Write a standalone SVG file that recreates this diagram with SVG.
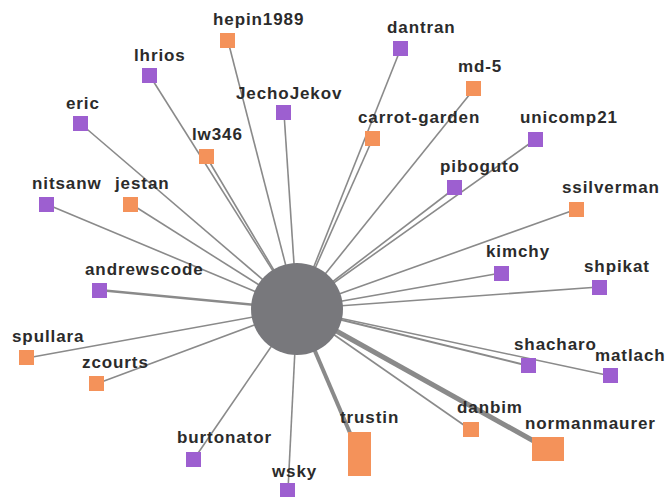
<svg xmlns="http://www.w3.org/2000/svg" width="667" height="497" viewBox="0 0 667 497">
<style>
.l{stroke:#8a8a8a;stroke-width:1.6;fill:none}
.o{fill:#f4925a}
.p{fill:#9d5fd0}
text{font-family:"Liberation Sans",Arial,sans-serif;font-weight:bold;font-size:17px;letter-spacing:0.9px;fill:#2b2b2b}
</style>
<rect width="667" height="497" fill="#fff"/>
<g id="connectors">
<line class="l" x1="228" y1="41" x2="297" y2="309"/>
<line class="l" x1="150" y1="76" x2="297" y2="309"/>
<line class="l" x1="81" y1="124" x2="297" y2="309"/>
<line class="l" x1="284" y1="113" x2="297" y2="309"/>
<line class="l" x1="206" y1="156" x2="297" y2="309"/>
<line class="l" x1="46" y1="204" x2="297" y2="309"/>
<line class="l" x1="131" y1="204" x2="297" y2="309"/>
<line class="l" x1="401" y1="48" x2="297" y2="309"/>
<line class="l" x1="474" y1="89" x2="297" y2="309"/>
<line class="l" x1="373" y1="138" x2="297" y2="309"/>
<line class="l" x1="536" y1="139" x2="297" y2="309"/>
<line class="l" x1="455" y1="188" x2="297" y2="309"/>
<line class="l" x1="577" y1="209" x2="297" y2="309"/>
<line class="l" x1="99" y1="290" x2="297" y2="309" style="stroke-width:2.6"/>
<line class="l" x1="27" y1="358" x2="297" y2="309"/>
<line class="l" x1="96" y1="384" x2="297" y2="309"/>
<line class="l" x1="194" y1="459" x2="297" y2="309"/>
<line class="l" x1="288" y1="490" x2="297" y2="309"/>
<line class="l" x1="501" y1="273" x2="297" y2="309"/>
<line class="l" x1="599" y1="287" x2="297" y2="309"/>
<line class="l" x1="529" y1="366" x2="297" y2="309" style="stroke-width:2"/>
<line class="l" x1="611" y1="376" x2="297" y2="309"/>
<line class="l" x1="471" y1="430" x2="297" y2="309"/>
<line class="l" x1="548" y1="449" x2="297" y2="309" style="stroke-width:5"/>
<line class="l" x1="359" y1="454" x2="297" y2="309" style="stroke-width:4"/>
</g>
<g id="center"><circle cx="297" cy="309" r="46" fill="#78787c"/></g>
<g id="hepin1989"><rect class="o" x="220" y="33" width="15" height="15"/><text x="213" y="25">hepin1989</text></g>
<g id="lhrios"><rect class="p" x="142" y="68" width="15" height="15"/><text x="134" y="61">lhrios</text></g>
<g id="eric"><rect class="p" x="73" y="116" width="15" height="15"/><text x="66" y="109">eric</text></g>
<g id="JechoJekov"><rect class="p" x="276" y="105" width="15" height="15"/><text x="236" y="99">JechoJekov</text></g>
<g id="lw346"><rect class="o" x="199" y="149" width="15" height="15"/><text x="192" y="140">lw346</text></g>
<g id="nitsanw"><rect class="p" x="39" y="197" width="15" height="15"/><text x="32" y="189">nitsanw</text></g>
<g id="jestan"><rect class="o" x="123" y="197" width="15" height="15"/><text x="115" y="189">jestan</text></g>
<g id="dantran"><rect class="p" x="393" y="41" width="15" height="15"/><text x="387" y="33">dantran</text></g>
<g id="md-5"><rect class="o" x="466" y="81" width="15" height="15"/><text x="458" y="72">md-5</text></g>
<g id="carrot-garden"><rect class="o" x="365" y="131" width="15" height="15"/><text x="358" y="123">carrot-garden</text></g>
<g id="unicomp21"><rect class="p" x="528" y="132" width="15" height="15"/><text x="520" y="123">unicomp21</text></g>
<g id="piboguto"><rect class="p" x="447" y="180" width="15" height="15"/><text x="440" y="172">piboguto</text></g>
<g id="ssilverman"><rect class="o" x="569" y="202" width="15" height="15"/><text x="562" y="193">ssilverman</text></g>
<g id="andrewscode"><rect class="p" x="92" y="283" width="15" height="15"/><text x="85" y="275">andrewscode</text></g>
<g id="spullara"><rect class="o" x="19" y="350" width="15" height="15"/><text x="12" y="342">spullara</text></g>
<g id="zcourts"><rect class="o" x="89" y="376" width="15" height="15"/><text x="82" y="368">zcourts</text></g>
<g id="burtonator"><rect class="p" x="186" y="452" width="15" height="15"/><text x="177" y="443">burtonator</text></g>
<g id="wsky"><rect class="p" x="280" y="483" width="15" height="15"/><text x="272" y="477">wsky</text></g>
<g id="kimchy"><rect class="p" x="494" y="266" width="15" height="15"/><text x="486" y="257">kimchy</text></g>
<g id="shpikat"><rect class="p" x="592" y="280" width="15" height="15"/><text x="584" y="272">shpikat</text></g>
<g id="shacharo"><rect class="p" x="521" y="358" width="15" height="15"/><text x="514" y="350">shacharo</text></g>
<g id="matlach"><rect class="p" x="603" y="368" width="15" height="15"/><text x="595" y="361">matlach</text></g>
<g id="danbim"><rect class="o" x="463" y="422" width="16" height="15"/><text x="457" y="413">danbim</text></g>
<g id="normanmaurer"><rect class="o" x="532" y="437" width="32" height="24"/><text x="525" y="429">normanmaurer</text></g>
<g id="trustin"><rect class="o" x="348" y="432" width="23" height="44"/><text x="340" y="423">trustin</text></g>
</svg>
